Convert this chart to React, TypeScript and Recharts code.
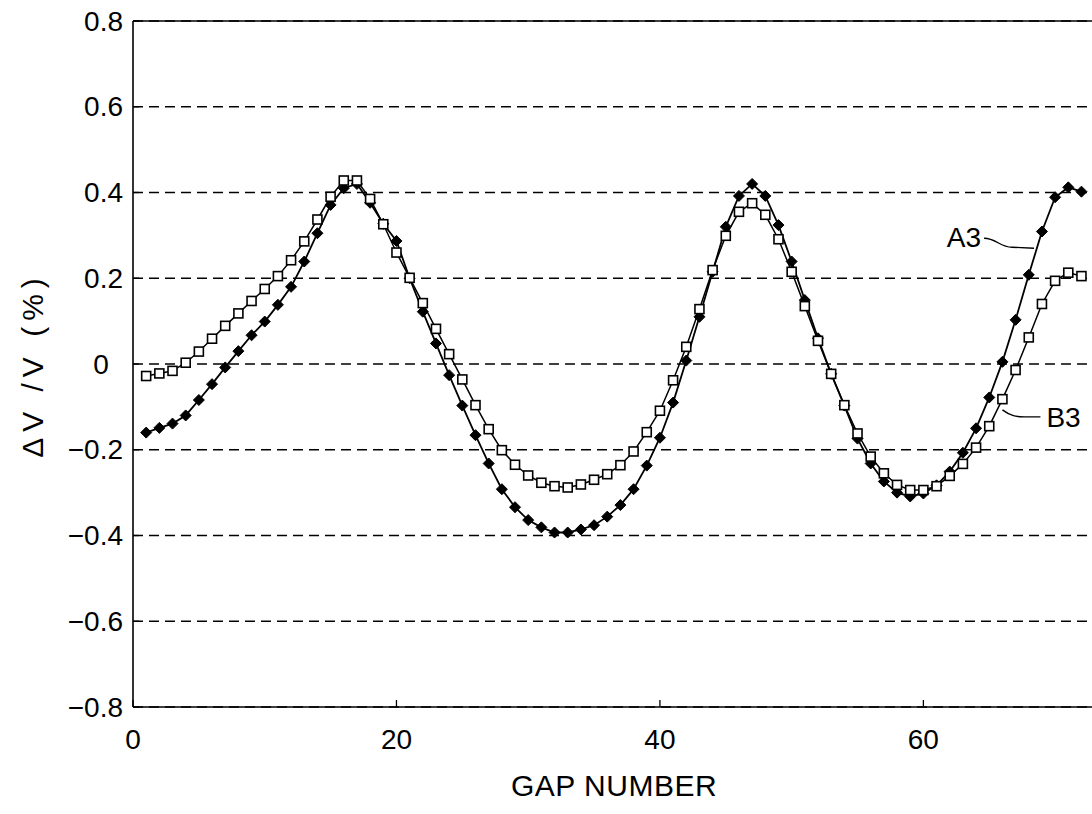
import React from "react";
import { LineChart, Line, XAxis, YAxis, CartesianGrid, ReferenceLine, ReferenceDot } from "recharts";

const FONT = '"Liberation Sans", Arial, Helvetica, sans-serif';

const gapNumbers = [
  1, 2, 3, 4, 5, 6, 7, 8, 9, 10, 11, 12, 13, 14, 15, 16, 17, 18, 19, 20, 21, 22, 23, 24,
  25, 26, 27, 28, 29, 30, 31, 32, 33, 34, 35, 36, 37, 38, 39, 40, 41, 42, 43, 44, 45, 46, 47, 48,
  49, 50, 51, 52, 53, 54, 55, 56, 57, 58, 59, 60, 61, 62, 63, 64, 65, 66, 67, 68, 69, 70, 71, 72,
];

// A3 (filled diamonds)
const a3Values = [
  -0.16, -0.149, -0.139, -0.12, -0.084, -0.047, -0.008, 0.03, 0.067, 0.099, 0.138, 0.18,
  0.239, 0.305, 0.371, 0.41, 0.42, 0.376, 0.327, 0.287, 0.2, 0.122, 0.048, -0.026,
  -0.097, -0.166, -0.232, -0.292, -0.334, -0.364, -0.381, -0.393, -0.393, -0.386, -0.376, -0.356,
  -0.329, -0.292, -0.237, -0.172, -0.09, 0.008, 0.11, 0.215, 0.32, 0.392, 0.42, 0.392,
  0.324, 0.239, 0.149, 0.06, -0.023, -0.097, -0.174, -0.232, -0.274, -0.3, -0.309, -0.302,
  -0.283, -0.251, -0.207, -0.15, -0.078, 0.005, 0.103, 0.208, 0.309, 0.389, 0.412, 0.402,
];

// B3 (open squares)
const b3Values = [
  -0.028, -0.022, -0.016, 0.003, 0.029, 0.059, 0.089, 0.118, 0.147, 0.175, 0.205, 0.242,
  0.286, 0.337, 0.39, 0.428, 0.428, 0.385, 0.326, 0.26, 0.201, 0.142, 0.082, 0.023,
  -0.036, -0.096, -0.152, -0.201, -0.235, -0.26, -0.277, -0.285, -0.288, -0.281, -0.27, -0.257,
  -0.236, -0.204, -0.159, -0.109, -0.038, 0.04, 0.128, 0.219, 0.299, 0.355, 0.375, 0.348,
  0.291, 0.215, 0.135, 0.054, -0.023, -0.096, -0.162, -0.216, -0.255, -0.282, -0.294, -0.294,
  -0.285, -0.261, -0.233, -0.195, -0.145, -0.082, -0.014, 0.062, 0.14, 0.194, 0.213, 0.205,
];

const xTicks = [0, 20, 40, 60];
const yTicks = [-0.8, -0.6, -0.4, -0.2, 0, 0.2, 0.4, 0.6, 0.8];

const data = gapNumbers.map((g, i) => ({ gap: g, a3: a3Values[i], b3: b3Values[i] }));

const Diamond = (props: any) => {
  const { cx, cy, index } = props;
  if (cx == null || cy == null) return null;
  const r = 5.5;
  return (
    <path
      key={`d-${index}`}
      d={`M${cx},${cy - r}L${cx + r},${cy}L${cx},${cy + r}L${cx - r},${cy}Z`}
      fill="#000"
      stroke="#000"
      strokeWidth={1}
    />
  );
};

const Square = (props: any) => {
  const { cx, cy, index } = props;
  if (cx == null || cy == null) return null;
  return (
    <rect key={`s-${index}`} x={cx - 4.5} y={cy - 4.5} width={9} height={9} fill="#fff" stroke="#000" strokeWidth={1.6} />
  );
};

const YTick = (props: any) => {
  const { x, y, payload } = props;
  const v = payload.value;
  const s = v === 0 ? "0" : (v < 0 ? "\u2212" : "") + Math.abs(v).toFixed(1);
  return (
    <text
      x={v === 0 ? x - 22 : x}
      y={y}
      textAnchor={v === 0 ? "middle" : "end"}
      dominantBaseline="central"
      fontSize={28}
      fontFamily={FONT}
      fill="#000"
    >
      {s}
    </text>
  );
};

const XTitle = () => (
  <text x={614} y={796} textAnchor="middle" fontSize={30} letterSpacing={0.5} fontFamily={FONT} fill="#000">
    GAP NUMBER
  </text>
);

const YTitle = () => (
  <text
    x={43}
    y={365}
    transform="rotate(-90 43 365)"
    textAnchor="middle"
    fontSize={30}
    letterSpacing={6}
    fontFamily={FONT}
    fill="#000"
  >
    ΔV /V (%)
  </text>
);

const A3Note = (props: any) => {
  const { cx, cy } = props;
  return (
    <g>
      <path
        d={`M${cx},${cy} L${cx - 22},${cy - 1} C${cx - 34},${cy - 1} ${cx - 38},${cy - 10} ${cx - 50},${cy - 10}`}
        fill="none"
        stroke="#000"
        strokeWidth={1.4}
      />
      <text x={cx - 53} y={cy - 1} textAnchor="end" fontSize={28} fontFamily={FONT} fill="#000">
        A3
      </text>
    </g>
  );
};

const B3Note = (props: any) => {
  const { cx, cy } = props;
  return (
    <g>
      <path
        d={`M${cx},${cy} C${cx + 8},${cy + 6} ${cx + 14},${cy + 7} ${cx + 22},${cy + 7} L${cx + 38},${cy + 7}`}
        fill="none"
        stroke="#000"
        strokeWidth={1.4}
      />
      <text x={cx + 44} y={cy + 17} textAnchor="start" fontSize={28} fontFamily={FONT} fill="#000">
        B3
      </text>
    </g>
  );
};

export default function App() {
  return (
    <div style={{ position: "absolute", left: 0, top: 0, width: 1092, height: 814, background: "#fff" }}>
      <LineChart width={1092} height={814} data={data} margin={{ top: 21, right: 0, bottom: 0, left: 0 }}>
        <CartesianGrid horizontal vertical={false} stroke="#000" strokeWidth={1.3} strokeDasharray="10 6" />
        <XAxis
          dataKey="gap"
          type="number"
          domain={[0, 72.8]}
          ticks={xTicks}
          height={107}
          tickSize={-7}
          tickMargin={29}
          axisLine={{ stroke: "#000", strokeWidth: 1.6 }}
          tickLine={{ stroke: "#000", strokeWidth: 1.3 }}
          tick={{ fontSize: 28, fill: "#000", fontFamily: FONT }}
          label={XTitle}
        />
        <YAxis
          type="number"
          domain={[-0.8, 0.8]}
          ticks={yTicks}
          width={133}
          tickSize={-6}
          tickMargin={16}
          axisLine={{ stroke: "#000", strokeWidth: 1.6 }}
          tickLine={{ stroke: "#000", strokeWidth: 1.3 }}
          tick={YTick}
          label={YTitle}
        />
        <ReferenceLine y={0.8} stroke="#000" strokeWidth={1.6} />
        <Line
          dataKey="a3"
          stroke="#000"
          strokeWidth={1.8}
          dot={Diamond}
          activeDot={false}
          isAnimationActive={false}
        />
        <Line
          dataKey="b3"
          stroke="#000"
          strokeWidth={1.5}
          dot={Square}
          activeDot={false}
          isAnimationActive={false}
        />
        <ReferenceDot x={68.4} y={0.27} r={0} shape={A3Note} />
        <ReferenceDot x={66} y={-0.107} r={0} shape={B3Note} />
      </LineChart>
    </div>
  );
}
